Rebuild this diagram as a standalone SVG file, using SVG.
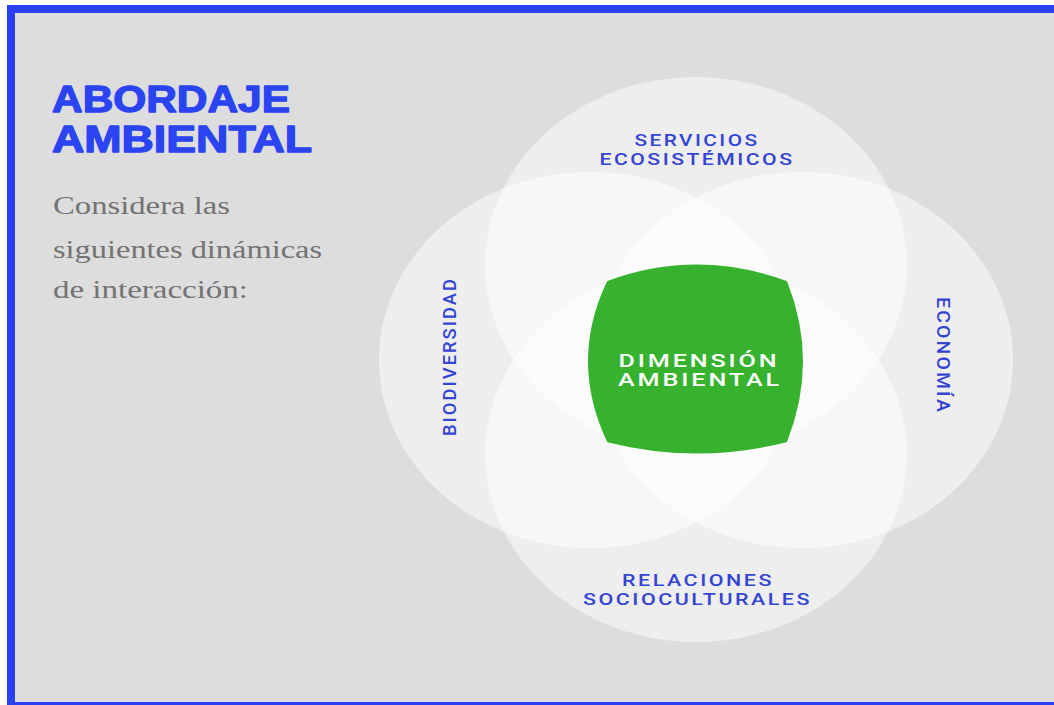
<svg xmlns="http://www.w3.org/2000/svg" width="1054" height="705" viewBox="0 0 1054 705">
  <style>
    .title { font-family: "Liberation Sans", Arial, sans-serif; font-weight: bold; font-size: 37px; fill: #2a44f2; stroke: #2a44f2; stroke-width: 1.3px; stroke-linejoin: round; }
    .body { font-family: "Liberation Serif", "DejaVu Serif", serif; font-size: 26px; fill: #737373; }
    .lab { font-family: Roboto, "Liberation Sans", sans-serif; font-weight: 500; font-size: 17px; letter-spacing: 2px; fill: #3345d2; text-anchor: middle; }
    .vlab { font-size: 18px; }
    .center-lab { font-family: Roboto, "Liberation Sans", sans-serif; font-weight: 500; font-size: 17.5px; letter-spacing: 2px; fill: #ffffff; text-anchor: middle; }
    .petal { fill: #ffffff; fill-opacity: 0.5; }
  </style>
  <rect x="0" y="0" width="1054" height="705" fill="#ffffff"/>
  <rect x="7" y="5" width="1047" height="700" fill="#2b40f3"/>
  <rect x="15" y="13" width="1039" height="689" fill="#dddddd"/>

  <g id="title">
    <text class="title" x="52" y="112" textLength="238" lengthAdjust="spacingAndGlyphs">ABORDAJE</text>
    <text class="title" x="52" y="152" textLength="260" lengthAdjust="spacingAndGlyphs">AMBIENTAL</text>
  </g>
  <g id="intro">
    <text class="body" x="53" y="214" textLength="177" lengthAdjust="spacingAndGlyphs">Considera las</text>
    <text class="body" x="53" y="258" textLength="269" lengthAdjust="spacingAndGlyphs">siguientes dinámicas</text>
    <text class="body" x="53" y="298" textLength="195" lengthAdjust="spacingAndGlyphs">de interacción:</text>
  </g>

  <g id="connectors"></g>

  <g id="node-servicios">
    <ellipse class="petal" cx="696" cy="265" rx="211" ry="188"/>
  </g>
  <g id="node-biodiversidad">
    <ellipse class="petal" cx="590" cy="360" rx="211" ry="188"/>
  </g>
  <g id="node-economia">
    <ellipse class="petal" cx="802" cy="360" rx="211" ry="188"/>
  </g>
  <g id="node-relaciones">
    <ellipse class="petal" cx="696" cy="454" rx="211" ry="188"/>
  </g>

  <g id="labels">
    <text class="lab" x="697" y="146" textLength="125" lengthAdjust="spacingAndGlyphs">SERVICIOS</text>
    <text class="lab" x="697" y="165" textLength="195" lengthAdjust="spacingAndGlyphs">ECOSISTÉMICOS</text>
    <text class="lab" x="698" y="586" textLength="152" lengthAdjust="spacingAndGlyphs">RELACIONES</text>
    <text class="lab" x="697.5" y="605" textLength="229" lengthAdjust="spacingAndGlyphs">SOCIOCULTURALES</text>
    <text class="lab vlab" transform="translate(456 356.5) rotate(-90)" x="0" y="0" textLength="159" lengthAdjust="spacingAndGlyphs">BIODIVERSIDAD</text>
    <text class="lab vlab" transform="translate(936.5 355.5) rotate(90)" x="0" y="0" textLength="117" lengthAdjust="spacingAndGlyphs">ECONOMÍA</text>
  </g>

  <g id="node-dimension">
    <path d="M609 283 Q696.5 251 785 283 Q816 361.5 785 440 Q696.5 462 609 440 Q572 361 609 283 Z" fill="#37b22f" stroke="#37b22f" stroke-width="5" stroke-linejoin="round"/>
    <text class="center-lab" x="699" y="367" textLength="161" lengthAdjust="spacingAndGlyphs">DIMENSIÓN</text>
    <text class="center-lab" x="700" y="386" textLength="164" lengthAdjust="spacingAndGlyphs">AMBIENTAL</text>
  </g>
</svg>
